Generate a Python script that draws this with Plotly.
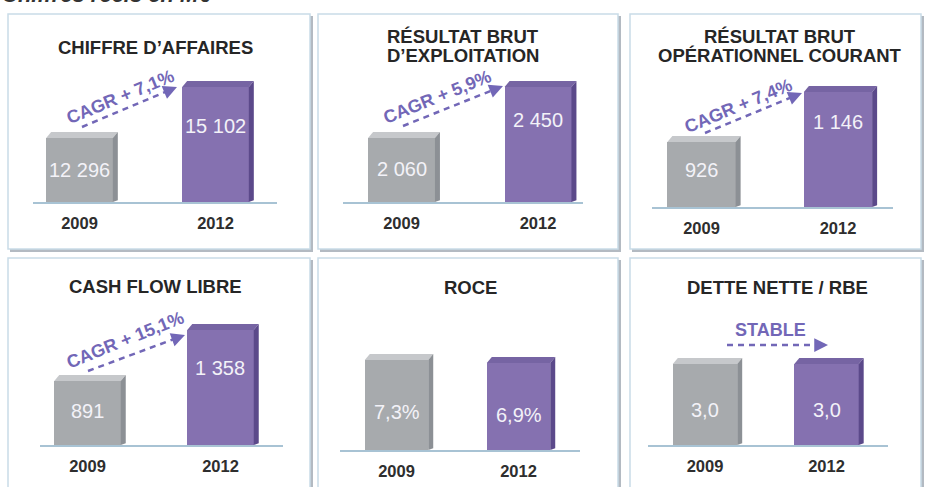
import plotly.graph_objects as go

W, H = 925, 487

# ---------------- data ----------------
years = ["2009", "2012"]
chiffre_affaires = [12296, 15102]
resultat_brut_exploitation = [2060, 2450]
resultat_brut_op_courant = [926, 1146]
cash_flow_libre = [891, 1358]
roce = [7.3, 6.9]
dette_nette_rbe = [3.0, 3.0]

series = [chiffre_affaires, resultat_brut_exploitation, resultat_brut_op_courant,
          cash_flow_libre, roce, dette_nette_rbe]
value_labels = [["12 296", "15 102"], ["2 060", "2 450"], ["926", "1 146"],
                ["891", "1 358"], ["7,3%", "6,9%"], ["3,0", "3,0"]]
titles = [["CHIFFRE D’AFFAIRES"], ["RÉSULTAT BRUT", "D’EXPLOITATION"],
          ["RÉSULTAT BRUT", "OPÉRATIONNEL COURANT"], ["CASH FLOW LIBRE"],
          ["ROCE"], ["DETTE NETTE / RBE"]]
trend_labels = ["CAGR + 7,1%", "CAGR + 5,9%", "CAGR + 7,4%", "CAGR + 15,1%", None, "STABLE"]
caption = "Chiffres réels en M€"

# ---------------- layout / style (pixels) ----------------
panels = [
    dict(c0=79.5, s=136.0, xr=(-0.342, 1.452), w=0.49, base=202, top=60, yr=(8775, 16587), lab=(0.50, 0.66),
         title_xy=(155, 47), box=(8, 14, 310, 249)),
    dict(c0=401.5, s=136.5, xr=(-0.43, 1.33), w=0.49, base=202, top=60, yr=(1571, 2657), lab=(0.52, 0.71),
         title_xy=(463, 37), box=(318, 14, 618, 249)),
    dict(c0=701.5, s=136.5, xr=(-0.363, 1.40), w=0.50, base=207, top=65, yr=(640, 1265), lab=(0.57, 0.74),
         title_xy=(780, 37), box=(630, 14, 921, 249)),
    dict(c0=87.5, s=133.0, xr=(-0.357, 1.47), w=0.50, base=445, top=303, yr=(305, 1605), lab=(0.53, 0.67),
         title_xy=(155, 286), box=(8, 258, 310, 495)),
    dict(c0=396.5, s=122.0, xr=(-0.463, 1.504), w=0.52, base=450, top=308, yr=(-4.7, 14.23), lab=(0.42, 0.40),
         title_xy=(470, 287), box=(318, 258, 618, 495)),
    dict(c0=705.0, s=121.5, xr=(-0.47, 1.506), w=0.53, base=445, top=303, yr=(0, 5.26), lab=(0.43, 0.43),
         title_xy=(777, 287), box=(630, 258, 921, 495)),
]

# trend arrows (pixels): start, end, text centre, angle
trends = [
    dict(a=(82, 127), b=(177, 87), t=(120, 97), ang=-22.5),
    dict(a=(403, 126), b=(503, 86), t=(437, 97), ang=-22),
    dict(a=(705, 133), b=(802, 93), t=(738, 106), ang=-22.5),
    dict(a=(88, 371), b=(185, 335), t=(125, 340), ang=-22),
    None,
    dict(a=(727, 345), b=(828, 345), t=(770, 330), ang=0),
]

GRAY = dict(front="#a7aaad", top="#c6c8cb", side="#8c9095")
PURPLE = dict(front="#8571b0", top="#7664a3", side="#5b498a")
TREND = "#7267b7"
FONT = "Liberation Sans, Arial, sans-serif"
DX_PX, DY_PX = 5, 6


def px(x):
    return x / W


def py(y):
    return 1 - y / H


fig = go.Figure()
shapes = []
annotations = []

# panel boxes
for p in panels:
    x0, y0, x1, y1 = p["box"]
    shapes.append(dict(type="rect", xref="paper", yref="paper", layer="below",
                       x0=px(x0 + 2), x1=px(x1 + 3), y0=py(y0 + 2), y1=py(y1 + 3),
                       fillcolor="#b3bac2", line=dict(width=0)))
    shapes.append(dict(type="rect", xref="paper", yref="paper", layer="below",
                       x0=px(x0), x1=px(x1), y0=py(y0), y1=py(y1),
                       fillcolor="white", line=dict(color="#c9dce8", width=1.5)))

for k, (p, vals) in enumerate(zip(panels, series)):
    i = k + 1
    xa = "x" if i == 1 else f"x{i}"
    ya = "y" if i == 1 else f"y{i}"
    floor, ymax = p["yr"]
    s = p["s"]
    scale = (p["base"] - p["top"]) / (ymax - floor)
    w = p["w"]
    dxu = DX_PX / s
    dyu = DY_PX / scale
    colors = [GRAY, PURPLE]

    fig.add_trace(go.Bar(x=[0, 1], y=[v - floor for v in vals], base=floor, width=w,
                         marker=dict(color=[c["front"] for c in colors], line=dict(width=0)),
                         xaxis=xa, yaxis=ya, hoverinfo="skip", showlegend=False))
    for j, v in enumerate(vals):
        c = colors[j]
        fig.add_trace(go.Scatter(
            x=[j - w / 2, j + w / 2, j + w / 2 + dxu, j - w / 2 + dxu, j - w / 2],
            y=[v, v, v + dyu, v + dyu, v], fill="toself", fillcolor=c["top"],
            mode="lines", line=dict(width=0), xaxis=xa, yaxis=ya,
            hoverinfo="skip", showlegend=False))
        fig.add_trace(go.Scatter(
            x=[j + w / 2, j + w / 2 + dxu, j + w / 2 + dxu, j + w / 2, j + w / 2],
            y=[floor, floor + dyu * 0.3, v + dyu, v, floor], fill="toself", fillcolor=c["side"],
            mode="lines", line=dict(width=0), xaxis=xa, yaxis=ya,
            hoverinfo="skip", showlegend=False))
        annotations.append(dict(xref=xa, yref=ya, x=j, y=floor + p["lab"][j] * (v - floor),
                                text=value_labels[k][j], showarrow=False,
                                font=dict(family=FONT, size=20, color="#f3f2f8")))

    x_lo = (p["c0"] + p["xr"][0] * s) / W
    x_hi = (p["c0"] + p["xr"][1] * s) / W
    fig.update_layout(**{
        ("xaxis" if i == 1 else f"xaxis{i}"): dict(
            domain=[x_lo, x_hi], range=list(p["xr"]), anchor=ya,
            showgrid=False, zeroline=False, showline=True, linecolor="#a8c3d4", linewidth=2,
            tickmode="array", tickvals=[0, 1], ticktext=years, ticks="",
            ticklabelstandoff=5,
            tickfont=dict(family=FONT, size=16.5, color="#2e2e2e", weight="bold"),
            fixedrange=True),
        ("yaxis" if i == 1 else f"yaxis{i}"): dict(
            domain=[py(p["base"]), py(p["top"])], range=[floor, ymax], anchor=xa,
            visible=False, fixedrange=True),
    })

    # titles
    tx, ty = p["title_xy"]
    for li, line in enumerate(titles[k]):
        annotations.append(dict(xref="paper", yref="paper", x=px(tx), y=py(ty + 18.5 * li),
                                xanchor="center", yanchor="middle", text=line, showarrow=False,
                                borderpad=0,
                                font=dict(family=FONT, size=18.5, color="#262626", weight="bold")))

    # trend arrows
    t = trends[k]
    if t is not None:
        (ax_, ay_), (bx, by) = t["a"], t["b"]
        L = ((bx - ax_) ** 2 + (by - ay_) ** 2) ** 0.5
        ux, uy = (bx - ax_) / L, (by - ay_) / L
        shapes.append(dict(type="line", xref="paper", yref="paper",
                           x0=px(ax_), y0=py(ay_), x1=px(bx - 8 * ux), y1=py(by - 8 * uy),
                           line=dict(color=TREND, width=2.5, dash="6px,5px")))
        annotations.append(dict(xref="paper", yref="paper", x=px(bx), y=py(by),
                                ax=-10 * ux, ay=-10 * uy, text="", showarrow=True,
                                arrowhead=2, arrowsize=1.1, arrowwidth=2.5, arrowcolor=TREND,
                                standoff=0))
        annotations.append(dict(xref="paper", yref="paper", x=px(t["t"][0]), y=py(t["t"][1]),
                                xanchor="center", yanchor="middle", text=trend_labels[k],
                                textangle=t["ang"], showarrow=False,
                                font=dict(family=FONT, size=18, color=TREND, weight="bold")))

# caption at the very top (cut off by the frame edge, as in the original)
annotations.append(dict(xref="paper", yref="paper", x=px(0), y=py(9), xanchor="left", yanchor="bottom",
                        text=caption, showarrow=False,
                        font=dict(family=FONT, size=22, color="#333333", style="italic", weight="bold")))

fig.update_layout(width=W, height=H, margin=dict(l=0, r=0, t=0, b=0),
                  paper_bgcolor="white", plot_bgcolor="rgba(0,0,0,0)",
                  shapes=shapes, annotations=annotations, showlegend=False, bargap=0)

fig.write_html("out.html", config={"displayModeBar": False},
               post_script="document.body.style.margin='0';document.body.style.overflow='hidden';")
